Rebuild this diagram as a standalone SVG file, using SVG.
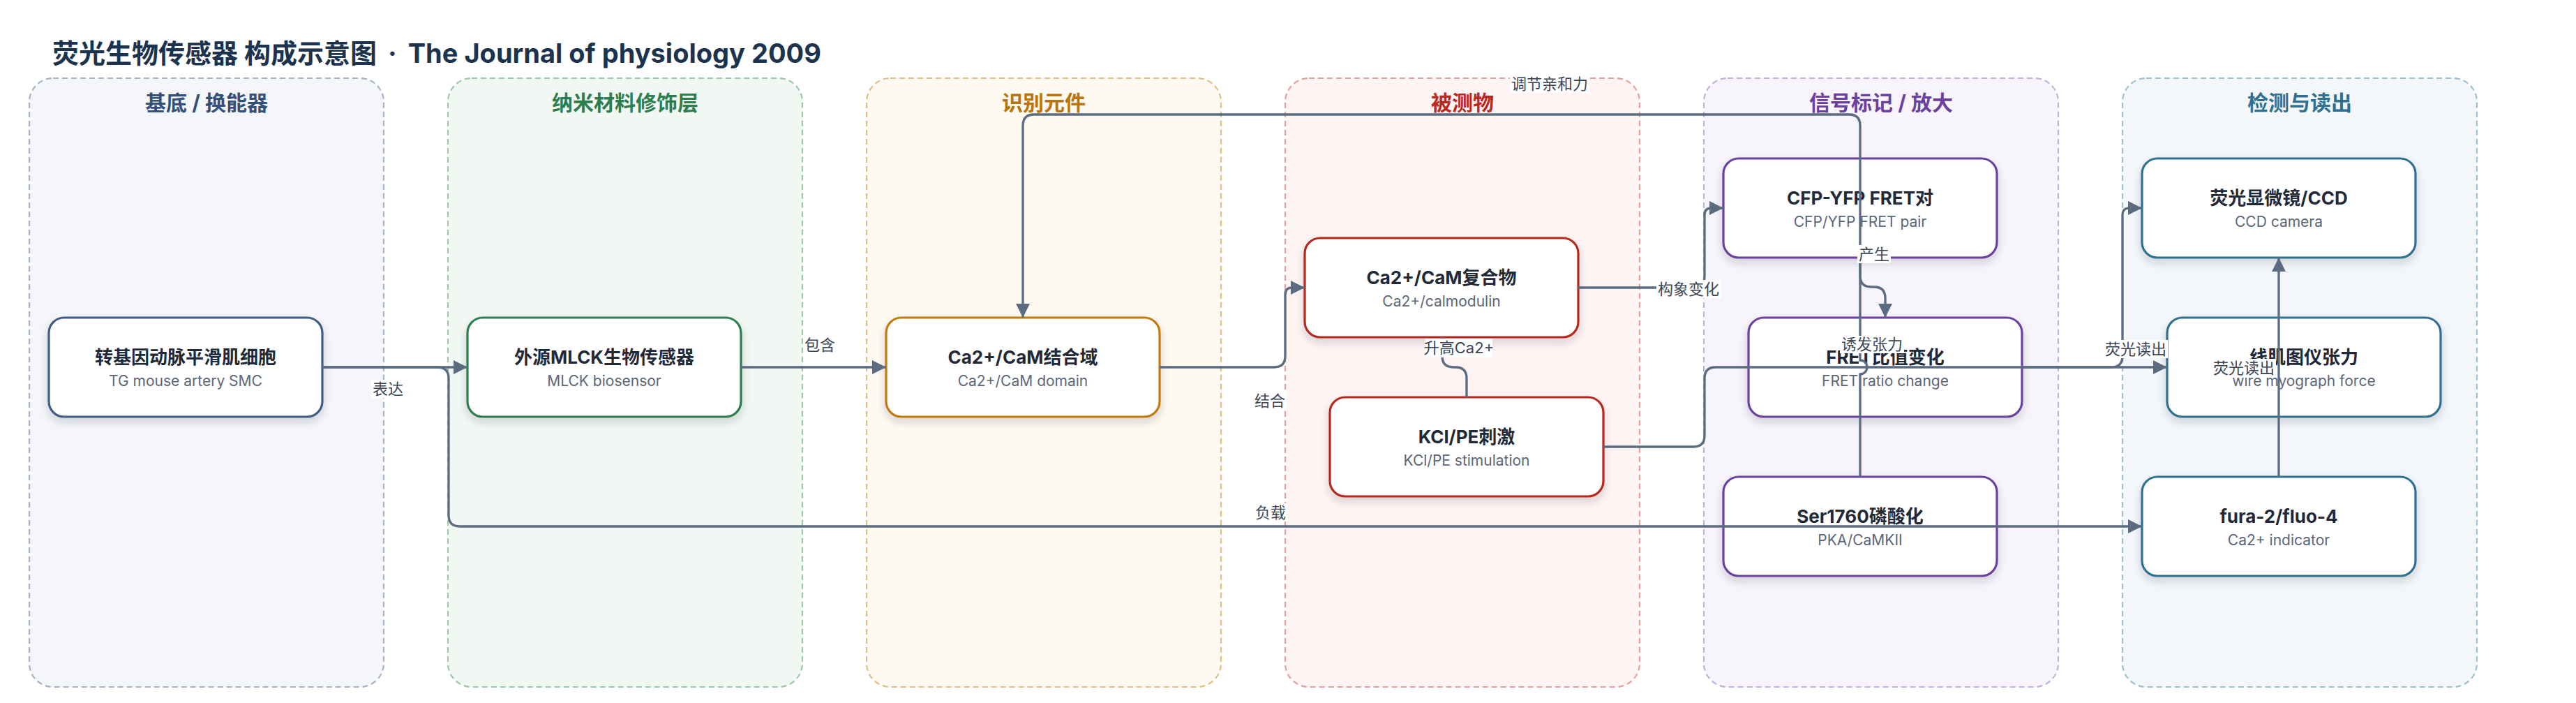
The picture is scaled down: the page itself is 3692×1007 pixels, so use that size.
<svg xmlns="http://www.w3.org/2000/svg" width="3692" height="1007" viewBox="0 0 3692 1007">
<style>
text{font-family:Inter,"Noto Sans CJK SC",sans-serif}
.ttl{font-size:38px;font-weight:700;fill:#1c3350}
.pt{font-size:30px;font-weight:700;text-anchor:middle}
.nt{font-size:26px;font-weight:700;fill:#1f2937;text-anchor:middle}
.ns{font-size:21px;fill:#5b6678;text-anchor:middle}
.node{fill:#fff;stroke-width:3.2;filter:url(#sh)}
.lane{stroke-width:2.2;stroke-dasharray:8 5}
.edge{fill:none;stroke:#5b6b80;stroke-width:3.3;marker-end:url(#ar)}
.lb{font-size:22px;fill:#3a4556;text-anchor:middle}
.lbg{fill:#fff}
</style>
<defs>
<filter id="sh" x="-10%" y="-10%" width="120%" height="135%">
<feDropShadow dx="0" dy="6" stdDeviation="6" flood-color="#1f2a37" flood-opacity="0.18"/>
</filter>
<marker id="ar" markerUnits="userSpaceOnUse" markerWidth="20" markerHeight="20" refX="20" refY="10" orient="auto">
<path d="M0,0 L20,10 L0,20 Z" fill="#5b6b80"/>
</marker>
</defs>
<rect width="3692" height="1007" fill="#fff"/>
<text class="ttl" x="75" y="90">荧光生物传感器 构成示意图<tspan dx="16">·</tspan><tspan dx="16">The Journal of physiology 2009</tspan></text>

<g id="lanes">
<g id="lane-substrate"><rect class="lane" x="42" y="112" width="508" height="872" rx="34" fill="#f4f6fa" stroke="#a5b2c8"/><text class="pt" x="296" y="158" fill="#34507a">基底 / 换能器</text></g>
<g id="lane-nano"><rect class="lane" x="642" y="112" width="508" height="872" rx="34" fill="#f1f8f3" stroke="#9cc8a8"/><text class="pt" x="896" y="158" fill="#2e7d4f">纳米材料修饰层</text></g>
<g id="lane-recog"><rect class="lane" x="1242" y="112" width="508" height="872" rx="34" fill="#fef9f1" stroke="#e2bd85"/><text class="pt" x="1496" y="158" fill="#b8730a">识别元件</text></g>
<g id="lane-analyte"><rect class="lane" x="1842" y="112" width="508" height="872" rx="34" fill="#fef4f3" stroke="#e6a09b"/><text class="pt" x="2096" y="158" fill="#b8281f">被测物</text></g>
<g id="lane-signal"><rect class="lane" x="2442" y="112" width="508" height="872" rx="34" fill="#f7f4fb" stroke="#c3b0de"/><text class="pt" x="2696" y="158" fill="#6a3fa0">信号标记 / 放大</text></g>
<g id="lane-detect"><rect class="lane" x="3042" y="112" width="508" height="872" rx="34" fill="#f3f7f9" stroke="#9cc0cf"/><text class="pt" x="3296" y="158" fill="#2f6f8f">检测与读出</text></g>
</g>

<g id="n1"><rect class="node" x="70" y="455" width="392" height="142" rx="22" stroke="#3f5b84"/><text class="nt" x="266" y="521">转基因动脉平滑肌细胞</text><text class="ns" x="266" y="553">TG mouse artery SMC</text></g>
<g id="n2"><rect class="node" x="670" y="455" width="392" height="142" rx="22" stroke="#2e7d4f"/><text class="nt" x="866" y="521">外源MLCK生物传感器</text><text class="ns" x="866" y="553">MLCK biosensor</text></g>
<g id="n3"><rect class="node" x="1270" y="455" width="392" height="142" rx="22" stroke="#c27a0e"/><text class="nt" x="1466" y="521">Ca2+/CaM结合域</text><text class="ns" x="1466" y="553">Ca2+/CaM domain</text></g>
<g id="n4"><rect class="node" x="1870" y="341" width="392" height="142" rx="22" stroke="#b8281f"/><text class="nt" x="2066" y="407">Ca2+/CaM复合物</text><text class="ns" x="2066" y="439">Ca2+/calmodulin</text></g>
<g id="n5"><rect class="node" x="1906" y="569" width="392" height="142" rx="22" stroke="#b8281f"/><text class="nt" x="2102" y="635">KCl/PE刺激</text><text class="ns" x="2102" y="667">KCl/PE stimulation</text></g>
<g id="n6"><rect class="node" x="2470" y="227" width="392" height="142" rx="22" stroke="#6a3fa0"/><text class="nt" x="2666" y="293">CFP-YFP FRET对</text><text class="ns" x="2666" y="325">CFP/YFP FRET pair</text></g>
<g id="n7"><rect class="node" x="2506" y="455" width="392" height="142" rx="22" stroke="#6a3fa0"/><text class="nt" x="2702" y="521">FRET比值变化</text><text class="ns" x="2702" y="553">FRET ratio change</text></g>
<g id="n8"><rect class="node" x="2470" y="683" width="392" height="142" rx="22" stroke="#6a3fa0"/><text class="nt" x="2666" y="749">Ser1760磷酸化</text><text class="ns" x="2666" y="781">PKA/CaMKII</text></g>
<g id="n9"><rect class="node" x="3070" y="227" width="392" height="142" rx="22" stroke="#2f6f8f"/><text class="nt" x="3266" y="293">荧光显微镜/CCD</text><text class="ns" x="3266" y="325">CCD camera</text></g>
<g id="n10"><rect class="node" x="3106" y="455" width="392" height="142" rx="22" stroke="#2f6f8f"/><text class="nt" x="3302" y="521">线肌图仪张力</text><text class="ns" x="3302" y="553">wire myograph force</text></g>
<g id="n11"><rect class="node" x="3070" y="683" width="392" height="142" rx="22" stroke="#2f6f8f"/><text class="nt" x="3266" y="749">fura-2/fluo-4</text><text class="ns" x="3266" y="781">Ca2+ indicator</text></g>

<g id="connectors">
<path class="edge" d="M462,526 L670,526"/>
<path class="edge" d="M462,526 L627,526 Q643,526 643,542 L643,738 Q643,754 659,754 L3070,754"/>
<path class="edge" d="M1062,526 L1270,526"/>
<path class="edge" d="M1662,526 L1826,526 Q1842,526 1842,510 L1842,422 Q1842,412 1852,412 L1870,412"/>
<path class="edge" d="M2262,412 L2427,412 Q2443,412 2443,396 L2443,308 Q2443,298 2453,298 L2470,298"/>
<path class="edge" d="M2102,569 L2102,542 Q2102,526 2086,526 L2083,526 Q2067,526 2067,510 L2067,483"/>
<path class="edge" d="M2298,640 L2427,640 Q2443,640 2443,624 L2443,542 Q2443,526 2459,526 L3106,526"/>
<path class="edge" d="M2666,683 L2666,536 A10,10 0 0 0 2666,516 L2666,180 Q2666,164 2650,164 L1482,164 Q1466,164 1466,180 L1466,455"/>
<path class="edge" d="M2666,369 L2666,395 Q2666,411 2682,411 L2686,411 Q2702,411 2702,427 L2702,455"/>
<path class="edge" d="M2898,526 L3026,526 Q3042,526 3042,510 L3042,308 Q3042,298 3052,298 L3070,298"/>
<path class="edge" d="M3266,683 L3266,369"/>
</g>

<g id="labels">
<rect class="lbg" x="532" y="544" width="48" height="26"/><text class="lb" x="556" y="565">表达</text>
<rect class="lbg" x="1151" y="481" width="48" height="26"/><text class="lb" x="1175" y="502">包含</text>
<rect class="lbg" x="1796" y="561" width="48" height="26"/><text class="lb" x="1820" y="582">结合</text>
<rect class="lbg" x="1797" y="721" width="48" height="26"/><text class="lb" x="1821" y="742">负载</text>
<rect class="lbg" x="2374" y="401" width="92" height="26"/><text class="lb" x="2420" y="422">构象变化</text>
<rect class="lbg" x="2043" y="485" width="96" height="27"/><text class="lb" x="2091" y="506">升高Ca2+</text>
<rect class="lbg" x="2164" y="107" width="114" height="26"/><text class="lb" x="2221" y="128">调节亲和力</text>
<rect class="lbg" x="2662" y="351" width="48" height="26"/><text class="lb" x="2686" y="372">产生</text>
<rect class="lbg" x="2637" y="481" width="92" height="25"/><text class="lb" x="2683" y="501">诱发张力</text>
<rect class="lbg" x="3015" y="487" width="92" height="26"/><text class="lb" x="3061" y="508">荧光读出</text>
<rect class="lbg" x="3170" y="514" width="92" height="26"/><text class="lb" x="3216" y="535">荧光读出</text>
</g>
</svg>
